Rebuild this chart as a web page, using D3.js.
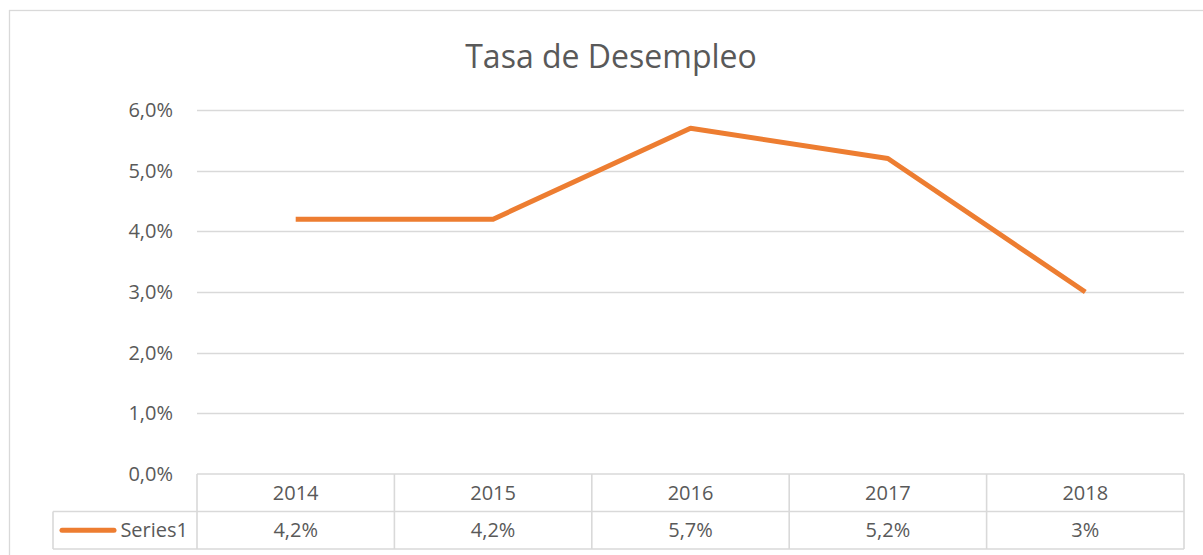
<!DOCTYPE html>
<html>
<head>
<meta charset="utf-8">
<script src="https://cdn.jsdelivr.net/npm/d3@7"></script>
<style>
  body { margin: 0; background: #fff; }
  svg text { font-family: 'Open Sans', sans-serif; fill: #595959; }
</style>
</head>
<body>
<script>
// Data
const years = ['2014', '2015', '2016', '2017', '2018'];
const rates = [4.2, 4.2, 5.7, 5.2, 3.0];
const tableLabels = ['4,2%', '4,2%', '5,7%', '5,2%', '3%'];
const yTicks = [0, 1, 2, 3, 4, 5, 6];
const seriesName = 'Series1';

// SVG setup
const width = 1203;
const height = 555;
const plot = { left: 197, right: 1184, top: 110, bottom: 474 };
const rowH = 37.5;
const lineColor = '#ED7D31';
const gridColor = '#d9d9d9';
const fontSize = '20px';

const svg = d3.select('body')
.append('svg')
.attr('width', width)
.attr('height', height);

// Chart area border
svg.append('rect')
.attr('x', 9.5)
.attr('y', 10.5)
.attr('width', 1220)
.attr('height', 560)
.attr('fill', 'none')
.attr('stroke', gridColor)
.attr('stroke-width', 1.3);

// Title
svg.append('text')
.attr('x', 611)
.attr('y', 68)
.attr('text-anchor', 'middle')
.attr('font-size', '32px')
.text('Tasa de Desempleo');

// Scales
const xScale = d3.scaleBand()
.domain(years)
.range([plot.left, plot.right]);

const yScale = d3.scaleLinear()
.domain([0, 6])
.range([plot.bottom, plot.top]);

// Gridlines
svg.append('g')
.selectAll('line')
.data(yTicks.filter(d => d > 0))
.enter()
.append('line')
.attr('x1', plot.left)
.attr('x2', plot.right)
.attr('y1', d => Math.round(yScale(d)) + 0.5)
.attr('y2', d => Math.round(yScale(d)) + 0.5)
.attr('stroke', gridColor)
.attr('stroke-width', 1.3);

// Y axis labels
const yAxis = d3.axisLeft(yScale)
.tickValues(yTicks)
.tickSize(0)
.tickPadding(24)
.tickFormat(d => d3.format('.1f')(d).replace('.', ',') + '%');

const yg = svg.append('g')
.attr('transform', `translate(${plot.left},0)`)
.call(yAxis);
yg.select('.domain').remove();
yg.selectAll('text')
.attr('font-size', fontSize)
.attr('font-family', "'Open Sans', sans-serif")
.attr('fill', '#595959');

// Line
const line = d3.line()
.x((d, i) => xScale(years[i]) + xScale.bandwidth() / 2)
.y(d => yScale(d));

svg.append('path')
.datum(rates)
.attr('d', line)
.attr('fill', 'none')
.attr('stroke', lineColor)
.attr('stroke-width', 5)
.attr('stroke-linejoin', 'round');

// Data table
const table = svg.append('g');
const tableLeft = 53;
const row1 = plot.bottom;
const row2 = plot.bottom + rowH;
const row3 = plot.bottom + 2 * rowH;

// horizontal lines
table.append('line')
.attr('x1', plot.left).attr('x2', plot.right)
.attr('y1', row1).attr('y2', row1);
table.append('line')
.attr('x1', tableLeft).attr('x2', plot.right)
.attr('y1', row2).attr('y2', row2);
table.append('line')
.attr('x1', tableLeft).attr('x2', plot.right)
.attr('y1', row3).attr('y2', row3);

// vertical lines
table.selectAll('.vline')
.data(years)
.enter()
.append('line')
.attr('class', 'vline')
.attr('x1', d => xScale(d))
.attr('x2', d => xScale(d))
.attr('y1', row1)
.attr('y2', row3);
table.append('line')
.attr('x1', plot.right).attr('x2', plot.right)
.attr('y1', row1).attr('y2', row3);
table.append('line')
.attr('x1', tableLeft).attr('x2', tableLeft)
.attr('y1', row2).attr('y2', row3);

table.selectAll('line')
.attr('stroke', gridColor)
.attr('stroke-width', 1.6);

// header text
table.selectAll('.year')
.data(years)
.enter()
.append('text')
.attr('class', 'year')
.attr('x', d => xScale(d) + xScale.bandwidth() / 2)
.attr('y', row1 + rowH / 2)
.attr('dy', '0.35em')
.attr('text-anchor', 'middle')
.attr('font-size', fontSize)
.text(d => d);

table.selectAll('.val')
.data(tableLabels)
.enter()
.append('text')
.attr('class', 'val')
.attr('x', (d, i) => xScale(years[i]) + xScale.bandwidth() / 2)
.attr('y', row2 + rowH / 2)
.attr('dy', '0.35em')
.attr('text-anchor', 'middle')
.attr('font-size', fontSize)
.text(d => d);

// legend key
table.append('line')
.attr('x1', 62).attr('x2', 114)
.attr('y1', row2 + rowH / 2).attr('y2', row2 + rowH / 2)
.attr('stroke', lineColor)
.attr('stroke-width', 5)
.attr('stroke-linecap', 'round');

table.append('text')
.attr('x', 188)
.attr('y', row2 + rowH / 2)
.attr('dy', '0.35em')
.attr('text-anchor', 'end')
.attr('font-size', fontSize)
.text(seriesName);
</script>
</body>
</html>
